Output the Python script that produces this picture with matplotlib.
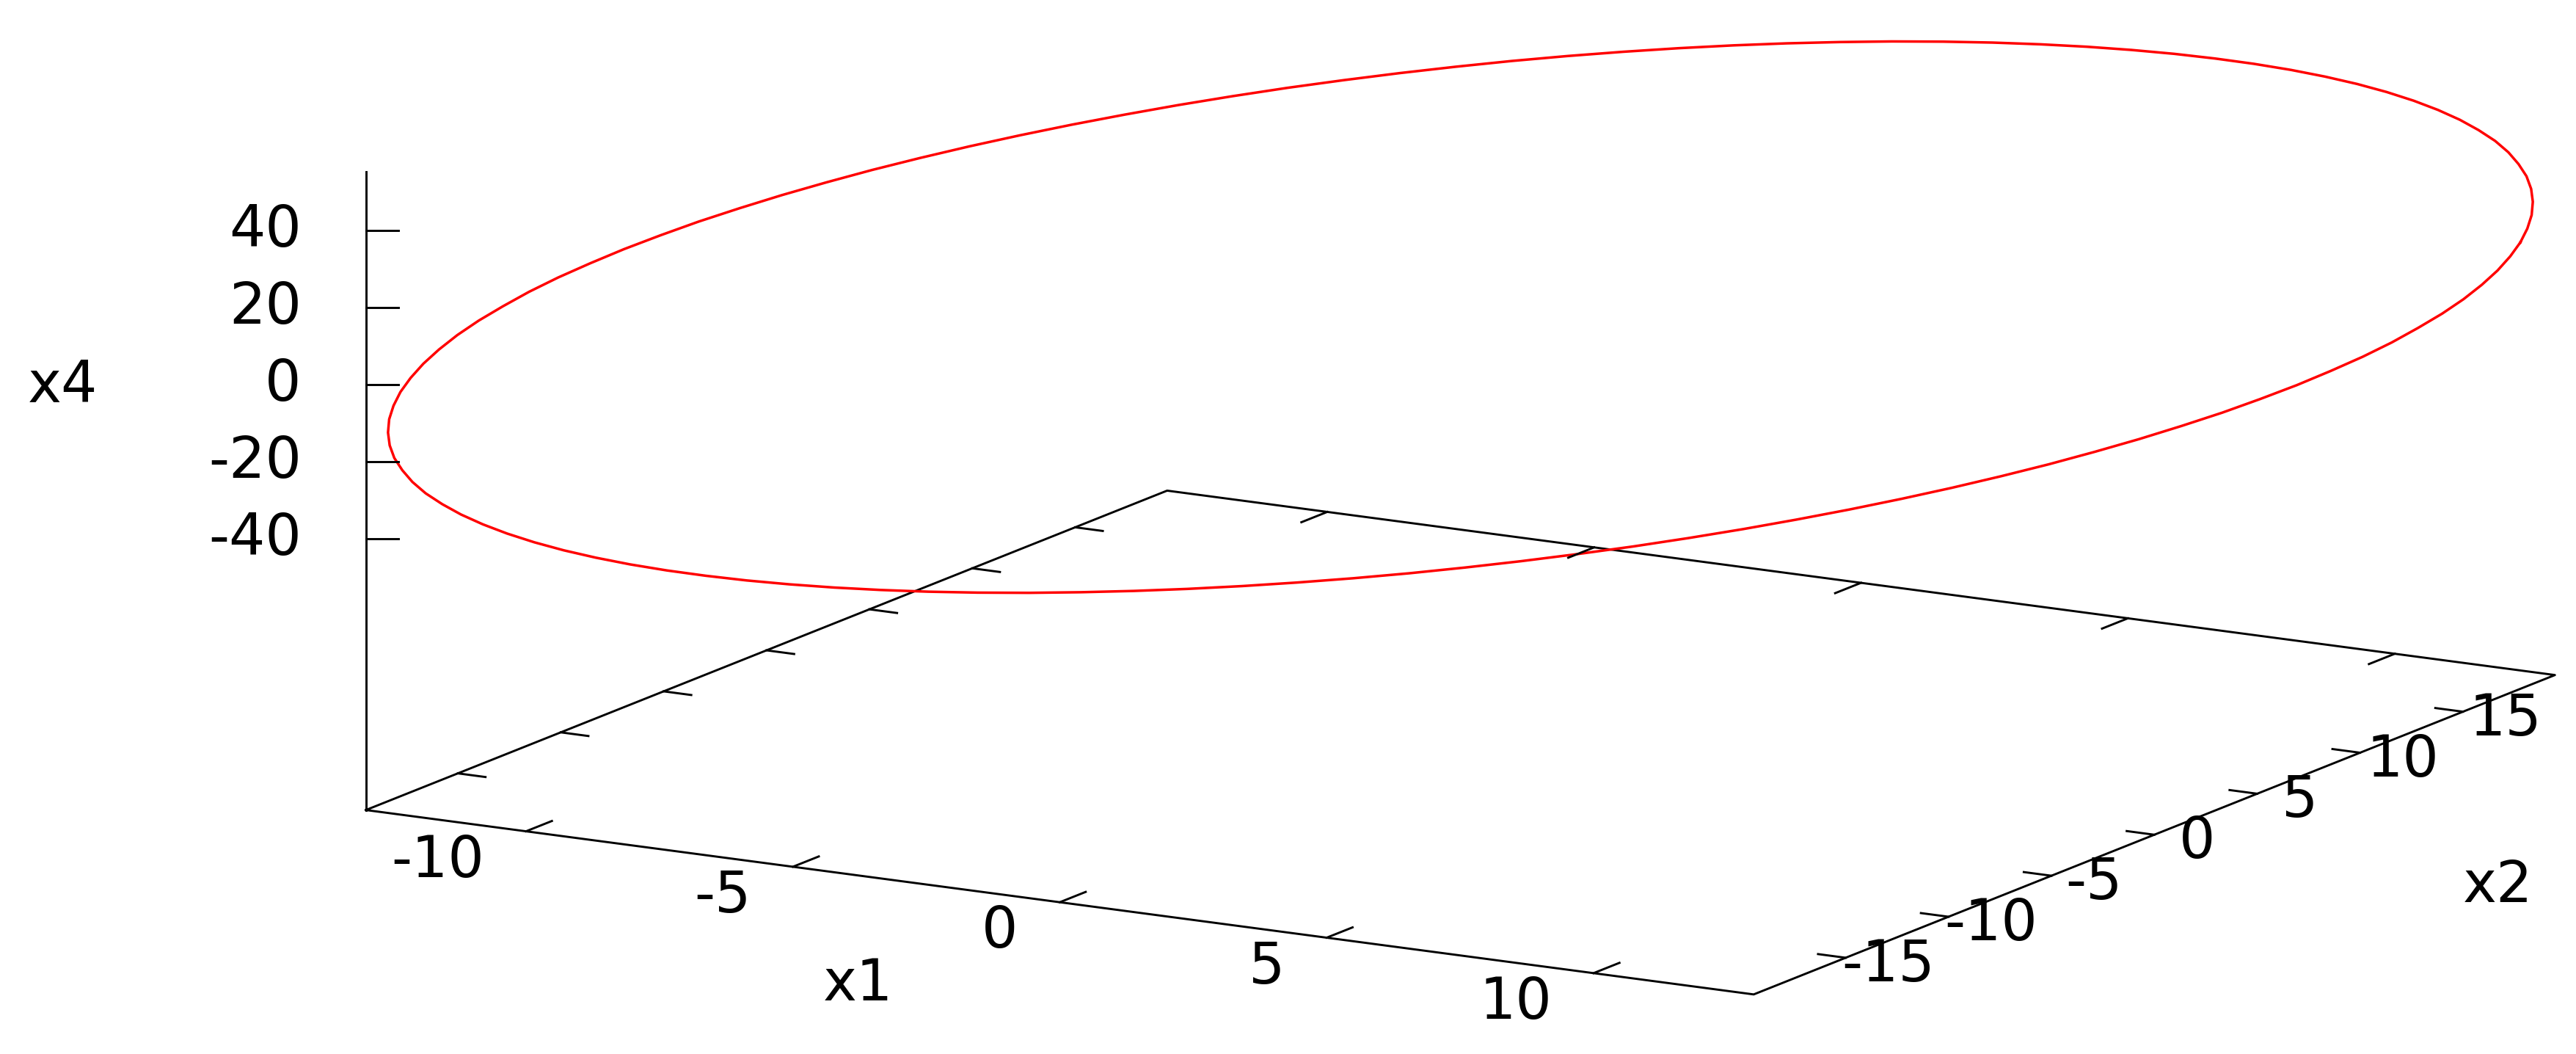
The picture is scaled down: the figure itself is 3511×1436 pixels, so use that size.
import matplotlib
matplotlib.use("Agg")
import matplotlib.pyplot as plt
import numpy as np
from matplotlib.lines import Line2D
from matplotlib.transforms import IdentityTransform
from mpl_toolkits.mplot3d import proj3d

# closed orbit, one point every 3 degrees of phase (x1, x2, x4)
X1 = [13.00, 12.98, 12.93, 12.84, 12.72, 12.56, 12.36, 12.14, 11.88, 11.58,
      11.26, 10.90, 10.52, 10.10, 9.66, 9.19, 8.70, 8.18, 7.64, 7.08,
      6.50, 5.90, 5.29, 4.66, 4.02, 3.36, 2.70, 2.03, 1.36, 0.68,
      0.00, -0.68, -1.36, -2.03, -2.70, -3.36, -4.02, -4.66, -5.29, -5.90,
      -6.50, -7.08, -7.64, -8.18, -8.70, -9.19, -9.66, -10.10, -10.52, -10.90,
      -11.26, -11.58, -11.88, -12.14, -12.36, -12.56, -12.72, -12.84, -12.93, -12.98,
      -13.00, -12.98, -12.93, -12.84, -12.72, -12.56, -12.36, -12.14, -11.88, -11.58,
      -11.26, -10.90, -10.52, -10.10, -9.66, -9.19, -8.70, -8.18, -7.64, -7.08,
      -6.50, -5.90, -5.29, -4.66, -4.02, -3.36, -2.70, -2.03, -1.36, -0.68,
      0.00, 0.68, 1.36, 2.03, 2.70, 3.36, 4.02, 4.66, 5.29, 5.90,
      6.50, 7.08, 7.64, 8.18, 8.70, 9.19, 9.66, 10.10, 10.52, 10.90,
      11.26, 11.58, 11.88, 12.14, 12.36, 12.56, 12.72, 12.84, 12.93, 12.98]
X2 = [17.79, 17.35, 16.86, 16.33, 15.75, 15.13, 14.47, 13.77, 13.03, 12.25,
      11.44, 10.60, 9.74, 8.84, 7.92, 6.98, 6.02, 5.04, 4.05, 3.05,
      2.04, 1.02, 0.00, -1.02, -2.04, -3.05, -4.05, -5.04, -6.02, -6.98,
      -7.92, -8.84, -9.74, -10.60, -11.44, -12.25, -13.03, -13.77, -14.47, -15.13,
      -15.75, -16.33, -16.86, -17.35, -17.79, -18.18, -18.52, -18.81, -19.04, -19.23,
      -19.36, -19.44, -19.47, -19.44, -19.36, -19.23, -19.04, -18.81, -18.52, -18.18,
      -17.79, -17.35, -16.86, -16.33, -15.75, -15.13, -14.47, -13.77, -13.03, -12.25,
      -11.44, -10.60, -9.74, -8.84, -7.92, -6.98, -6.02, -5.04, -4.05, -3.05,
      -2.04, -1.02, 0.00, 1.02, 2.04, 3.05, 4.05, 5.04, 6.02, 6.98,
      7.92, 8.84, 9.74, 10.60, 11.44, 12.25, 13.03, 13.77, 14.47, 15.13,
      15.75, 16.33, 16.86, 17.35, 17.79, 18.18, 18.52, 18.81, 19.04, 19.23,
      19.36, 19.44, 19.47, 19.44, 19.36, 19.23, 19.04, 18.81, 18.52, 18.18]
X4 = [5.47, 2.74, 0.00, -2.74, -5.47, -8.18, -10.87, -13.54, -16.16, -18.74,
      -21.27, -23.74, -26.15, -28.48, -30.74, -32.91, -35.00, -36.98, -38.87, -40.64,
      -42.31, -43.86, -45.29, -46.60, -47.78, -48.83, -49.74, -50.52, -51.16, -51.66,
      -52.01, -52.23, -52.30, -52.23, -52.01, -51.66, -51.16, -50.52, -49.74, -48.83,
      -47.78, -46.60, -45.29, -43.86, -42.31, -40.64, -38.87, -36.98, -35.00, -32.91,
      -30.74, -28.48, -26.15, -23.74, -21.27, -18.74, -16.16, -13.54, -10.87, -8.18,
      -5.47, -2.74, 0.00, 2.74, 5.47, 8.18, 10.87, 13.54, 16.16, 18.74,
      21.27, 23.74, 26.15, 28.48, 30.74, 32.91, 35.00, 36.98, 38.87, 40.64,
      42.31, 43.86, 45.29, 46.60, 47.78, 48.83, 49.74, 50.52, 51.16, 51.66,
      52.01, 52.23, 52.30, 52.23, 52.01, 51.66, 51.16, 50.52, 49.74, 48.83,
      47.78, 46.60, 45.29, 43.86, 42.31, 40.64, 38.87, 36.98, 35.00, 32.91,
      30.74, 28.48, 26.15, 23.74, 21.27, 18.74, 16.16, 13.54, 10.87, 8.18]

X1_RANGE = (-13.0, 13.0)
X2_RANGE = (-19.47, 19.47)
X4_RANGE = (-55.2, 55.2)
X1_TICKS = [-10, -5, 0, 5, 10]
X2_TICKS = [-15, -10, -5, 0, 5, 10, 15]
X4_TICKS = [-40, -20, 0, 20, 40]

W, H, DPI = 3512, 1436, 100
FONT = 56
LW = 2.1
TIC = 38     # tic length in pixels (x1 / x2)
ZTIC = 44    # tic length in pixels (x4)

fig = plt.figure(figsize=(W / DPI, H / DPI), dpi=DPI)
ax = fig.add_axes([0, 0, 1, 1], projection="3d", proj_type="ortho",
                  computed_zorder=False)
ax.view_init(elev=13.3, azim=-60)
# gnuplot style: base plane sits half a z-range below zmin
zb = X4_RANGE[0] - 0.5 * (X4_RANGE[1] - X4_RANGE[0])
ax.set_xlim(*X1_RANGE)
ax.set_ylim(*X2_RANGE)
ax.set_zlim(zb, X4_RANGE[1])
ax.set_box_aspect((1, 1, 0.409))
ax.set_axis_off()


def to_px(x, y, z):
    xs, ys, _ = proj3d.proj_transform(np.atleast_1d(np.asarray(x, float)),
                                      np.atleast_1d(np.asarray(y, float)),
                                      np.atleast_1d(np.asarray(z, float)),
                                      ax.get_proj())
    return ax.transData.transform(np.column_stack([xs, ys]))


def place(size, cx, cy):
    ax.set_position([(cx - size / 2) / W, (cy - size / 2) / H, size / W, size / H])


# fit the 3d box onto the page: front-left corner and right corner
S0 = 1000.0
place(S0, W / 2, H / 2)
fig.canvas.draw()
pts = to_px([X1_RANGE[0], X1_RANGE[1]], [X2_RANGE[0], X2_RANGE[1]], [zb, zb])
g = (pts - np.array([W / 2, H / 2])) / S0
target = np.array([[498.7, H - 1103.6], [3482.3, H - 919.3]])
S1 = (target[1, 0] - target[0, 0]) / (g[1, 0] - g[0, 0])
c1 = target[0] - S1 * g[0]
place(S1, c1[0], c1[1])
fig.canvas.draw()

x1a, x1b = X1_RANGE
x2a, x2b = X2_RANGE

# border: base parallelogram + vertical z axis
ax.plot([x1a, x1b, x1b, x1a, x1a], [x2a, x2a, x2b, x2b, x2a], [zb] * 5,
        color="black", lw=LW, zorder=1)
ax.plot([x1a, x1a], [x2a, x2a], [zb, X4_RANGE[1]], color="black", lw=LW, zorder=1)

# data
ax.plot(X1 + X1[:1], X2 + X2[:1], X4 + X4[:1], color="#ff0000", lw=2.5, zorder=3)


def tic(p, q, length):
    d = (q - p) / np.hypot(*(q - p))
    e = p + d * length
    fig.add_artist(Line2D([p[0], e[0]], [p[1], e[1]], color="black", lw=LW,
                          transform=IdentityTransform()))


def label(xy, s, **kw):
    fig.text(xy[0], xy[1], s, fontsize=FONT, transform=IdentityTransform(), **kw)


for v in X1_TICKS:
    a, b = to_px([v, v], [x2a, x2b], [zb, zb])
    tic(a, b, TIC)
    tic(b, a, TIC)
    label(a + np.array([-57, -40]), str(v), ha="right", va="center")

for v in X2_TICKS:
    a, b = to_px([x1b, x1a], [v, v], [zb, zb])
    tic(a, b, TIC)
    tic(b, a, TIC)
    label(a + np.array([58, -10]), str(v), ha="center", va="center")

for v in X4_TICKS:
    a = to_px(x1a, x2a, v)[0]
    tic(a, a + np.array([1.0, 0.0]), ZTIC)
    label(a + np.array([-88, 0]), str(v), ha="right", va="center")

label((1169, H - 1341), "x1", ha="center", va="center")
label((3405, H - 1207), "x2", ha="center", va="center")
label((85, H - 526), "x4", ha="center", va="center")

fig.savefig("out.png", dpi=DPI)
